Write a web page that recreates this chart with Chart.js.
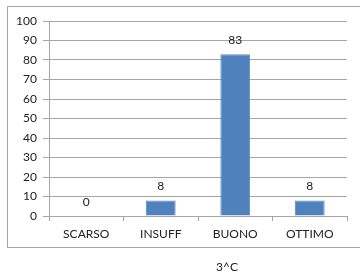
<!DOCTYPE html>
<html>
<head>
<meta charset="utf-8">
<script src="https://cdn.jsdelivr.net/npm/chart.js@4.4.1/dist/chart.umd.min.js"></script>
<style>
  html, body { margin: 0; padding: 0; background: #ffffff; }
  #wrap { position: relative; width: 360px; height: 277px; overflow: hidden; }
  #frame { position: absolute; left: 7px; top: 6px; width: 400px; height: 242px;
           border-left: 1px solid #a6a6a6; border-top: 1px solid #a6a6a6; border-bottom: 1px solid #a6a6a6; box-sizing: border-box; }
  canvas { position: absolute; left: 0; top: 0; }
  #caption { position: absolute; left: 227px; top: 266px; transform: translate(-50%, -50%);
             font-family: Lato, "Liberation Sans", sans-serif; font-size: 12px; color: #222; white-space: nowrap; }
</style>
</head>
<body>
<div id="wrap">
  <div id="frame"></div>
  <canvas id="c" width="360" height="277"></canvas>
  <div id="caption">3^C</div>
</div>
<script>
const categories = ["SCARSO", "INSUFF", "BUONO", "OTTIMO"];
const values = [0, 8, 83, 8];
const yTicks = [0, 10, 20, 30, 40, 50, 60, 70, 80, 90, 100];

const valueLabels = {
  id: 'valueLabels',
  afterDatasetsDraw(chart) {
    const ctx = chart.ctx;
    const meta = chart.getDatasetMeta(0);
    ctx.save();
    ctx.font = '12px Lato, "Liberation Sans", sans-serif';
    ctx.fillStyle = '#222';
    ctx.textAlign = 'center';
    ctx.textBaseline = 'middle';
    meta.data.forEach((bar, i) => {
      ctx.fillText(String(values[i]), bar.x, bar.y - 14);
    });
    ctx.restore();
  }
};

new Chart(document.getElementById('c'), {
  type: 'bar',
  data: {
    labels: categories,
    datasets: [{
      data: values,
      backgroundColor: '#4f81bd',
      borderColor: '#5a8ac4',
      borderWidth: 1,
      barPercentage: 0.4,
      categoryPercentage: 1.0
    }]
  },
  options: {
    responsive: false,
    animation: false,
    devicePixelRatio: 1,
    layout: { padding: { left: 0, right: 13, top: 21, bottom: 0 } },
    plugins: { legend: { display: false }, tooltip: { enabled: false } },
    scales: {
      y: {
        min: 0, max: 100,
        afterFit(s) { s.width = 49; },
        afterBuildTicks(s) { s.ticks = yTicks.map(v => ({ value: v })); },
        ticks: { padding: 6, color: '#222', font: { family: 'Lato, "Liberation Sans", sans-serif', size: 12 } },
        grid: { color: '#a6a6a6', tickLength: 6, lineWidth: 1 },
        border: { color: '#a6a6a6' }
      },
      x: {
        afterFit(s) { s.height = 61; },
        ticks: { padding: 6, color: '#222', font: { family: 'Lato, "Liberation Sans", sans-serif', size: 12 } },
        grid: { drawOnChartArea: false, drawTicks: true, tickLength: 5, color: '#a6a6a6', offset: true },
        border: { color: '#a6a6a6' }
      }
    }
  },
  plugins: [valueLabels]
});
</script>
</body>
</html>
